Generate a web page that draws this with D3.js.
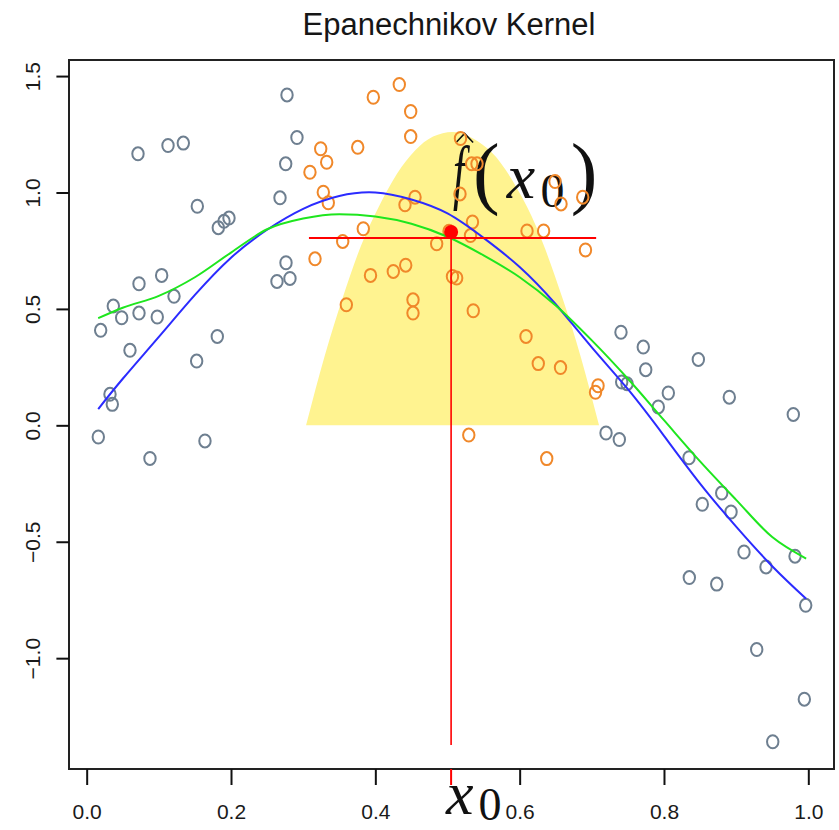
<!DOCTYPE html>
<html>
<head>
<meta charset="utf-8">
<script src="https://cdn.jsdelivr.net/npm/d3@7"></script>
<style>
  html, body { margin: 0; padding: 0; background: #fff; }
  svg { display: block; }
</style>
</head>
<body>
<svg id="chart" width="839" height="830"></svg>
<script>
// Observations outside the kernel window (drawn grey)
const outsidePoints = [
  [0.0711, 1.166], [0.1127, 1.202], [0.1339, 1.212], [0.2679, 0.977], [0.2758, 1.123],
  [0.1533, 0.941], [0.1824, 0.849], [0.1903, 0.876], [0.1972, 0.890], [0.0725, 0.608],
  [0.1039, 0.644], [0.0369, 0.512], [0.0485, 0.462], [0.0725, 0.482], [0.0978, 0.465],
  [0.1210, 0.554], [0.0194, 0.408], [0.0600, 0.322], [0.1810, 0.382], [0.1524, 0.276],
  [0.0323, 0.133], [0.0355, 0.090], [0.0161, -0.050], [0.1639, -0.067], [0.0877, -0.142],
  [0.2762, 0.698], [0.2637, 0.618], [0.2817, 0.631], [0.2776, 1.419], [0.2914, 1.236],
  [0.7404, 0.400], [0.7713, 0.336], [0.7747, 0.239], [0.8476, 0.283], [0.7414, 0.186],
  [0.7488, 0.179], [0.8060, 0.139], [0.7921, 0.079], [0.8905, 0.121], [0.9792, 0.047],
  [0.7197, -0.033], [0.7381, -0.061], [0.8347, -0.139], [0.8800, -0.291], [0.8531, -0.339],
  [0.8929, -0.372], [0.9109, -0.544], [0.9414, -0.608], [0.9816, -0.562], [0.9964, -0.773],
  [0.8351, -0.654], [0.8731, -0.682], [0.9285, -0.963], [0.9945, -1.176], [0.9507, -1.359]
];

// Observations inside the kernel window (drawn orange)
const insidePoints = [
  [0.4332, 1.464], [0.3972, 1.409], [0.4490, 1.348], [0.4490, 1.240], [0.3243, 1.188],
  [0.3756, 1.194], [0.3326, 1.130], [0.3094, 1.087], [0.3279, 1.001], [0.3348, 0.956],
  [0.4550, 0.980], [0.4411, 0.947], [0.3833, 0.844], [0.3548, 0.790], [0.4850, 0.780],
  [0.3164, 0.715], [0.3598, 0.518], [0.3933, 0.644], [0.4249, 0.661], [0.4421, 0.688],
  [0.4522, 0.539], [0.4522, 0.482], [0.5180, 1.232], [0.5335, 1.123], [0.5409, 1.123],
  [0.5173, 0.994], [0.6490, 1.047], [0.6573, 0.951], [0.6874, 0.980], [0.5346, 0.873],
  [0.5319, 0.815], [0.5021, 0.833], [0.6102, 0.835], [0.6332, 0.835], [0.6912, 0.753],
  [0.5069, 0.639], [0.5127, 0.633], [0.5357, 0.492], [0.6088, 0.382], [0.6258, 0.265],
  [0.6566, 0.248], [0.7086, 0.170], [0.7051, 0.142], [0.5295, -0.042], [0.6375, -0.143]
];

// Curve sample positions and values
const curveX    = [0.016, 0.05, 0.1, 0.15, 0.2, 0.25, 0.3, 0.35, 0.4, 0.45, 0.5,
                   0.55, 0.6, 0.65, 0.7, 0.75, 0.8, 0.85, 0.9, 0.95, 0.997];
const trueY     = [0.07, 0.2, 0.38, 0.56, 0.72, 0.84, 0.93, 0.985, 1.0, 0.97, 0.91,
                   0.805, 0.68, 0.52, 0.335, 0.155, -0.045, -0.25, -0.435, -0.605, -0.745];
const smoothY   = [0.46, 0.505, 0.556, 0.636, 0.742, 0.842, 0.888, 0.907, 0.897, 0.866, 0.81,
                   0.73, 0.636, 0.515, 0.365, 0.2, 0.022, -0.155, -0.32, -0.48, -0.572];

// Epanechnikov kernel weights over the window
const kernelX = [0.304, 0.33, 0.355, 0.38, 0.405, 0.43, 0.455, 0.48, 0.507,
                 0.53, 0.555, 0.58, 0.61, 0.635, 0.66, 0.685, 0.71];
const kernelH = [0, 0.30, 0.55, 0.77, 0.94, 1.08, 1.18, 1.24, 1.26,
                 1.24, 1.19, 1.10, 0.94, 0.76, 0.54, 0.29, 0];

// Target point and its estimate
const x0 = 0.505;
const fHat = 0.83;
const windowLevel = 0.804;
const windowRange = [0.308, 0.706];
const stemBottom = -1.373;

const xTicks = [0.0, 0.2, 0.4, 0.6, 0.8, 1.0];
const yTicks = [-1.0, -0.5, 0.0, 0.5, 1.0, 1.5];
const titleText = "Epanechnikov Kernel";

const plotLeft = 69, plotRight = 834, plotTop = 60, plotBottom = 769;

const svg = d3.select("#chart");

const x = d3.scaleLinear().domain([-0.0245, 1.0356]).range([plotLeft, plotRight]);
const y = d3.scaleLinear().domain([-1.476, 1.569]).range([plotBottom, plotTop]);

// Kernel weight area
svg.append("path")
  .datum(kernelX.map((v, i) => [v, kernelH[i]]))
  .attr("fill", "#fff390")
  .attr("d", d3.area()
    .x(d => x(d[0]))
    .y0(y(0))
    .y1(d => y(d[1]))
    .curve(d3.curveNatural));

// Estimate label  \hat f(x_0)
const xp = x(x0);
const serif = "'Liberation Serif', 'Times New Roman', serif";
const lab = svg.append("g").attr("fill", "#111");
lab.append("text")
  .attr("transform", `translate(${xp + 2},196) scale(0.6,1)`)
  .attr("font-family", serif)
  .attr("font-style", "italic").attr("font-size", 72).text("f");
lab.append("path")
  .attr("d", `M${xp + 5},142.5 L${xp + 13.5},133.5 L${xp + 22},142.5`)
  .attr("fill", "none").attr("stroke", "#111").attr("stroke-width", 1.6);
lab.append("text")
  .attr("x", xp + 22).attr("y", 199)
  .attr("font-family", serif)
  .attr("font-size", 80).text("(");
lab.append("text")
  .attr("x", xp + 55.6).attr("y", 198)
  .attr("font-family", serif)
  .attr("font-style", "italic").attr("font-size", 64).text("x");
lab.append("text")
  .attr("x", xp + 89.4).attr("y", 207)
  .attr("font-family", serif)
  .attr("font-size", 48).text("0");
lab.append("text")
  .attr("x", xp + 119.6).attr("y", 199)
  .attr("font-family", serif)
  .attr("font-size", 80).text(")");

// Data points
const drawPoints = (pts, color) => svg.append("g")
  .selectAll("ellipse").data(pts).join("ellipse")
  .attr("cx", d => x(d[0])).attr("cy", d => y(d[1]))
  .attr("rx", 5.7).attr("ry", 6.5)
  .attr("fill", "none").attr("stroke", color).attr("stroke-width", 2);
drawPoints(outsidePoints, "#6e7f90");
drawPoints(insidePoints, "#f0882a");

// True function and kernel fit
const line = d3.line().x(d => x(d[0])).y(d => y(d[1]));
svg.append("path")
  .datum(curveX.map((v, i) => [v, trueY[i]]))
  .attr("fill", "none").attr("stroke", "#2b2bff").attr("stroke-width", 2)
  .attr("d", line.curve(d3.curveNatural));
svg.append("path")
  .datum(curveX.map((v, i) => [v, smoothY[i]]))
  .attr("fill", "none").attr("stroke", "#1ee61e").attr("stroke-width", 2)
  .attr("d", line.curve(d3.curveMonotoneX));

// Window level and target stem
svg.append("line")
  .attr("x1", x(windowRange[0])).attr("x2", x(windowRange[1]))
  .attr("y1", y(windowLevel)).attr("y2", y(windowLevel))
  .attr("stroke", "#ff0000").attr("stroke-width", 2);
svg.append("line")
  .attr("x1", xp).attr("x2", xp)
  .attr("y1", y(fHat)).attr("y2", y(stemBottom))
  .attr("stroke", "#ff0000").attr("stroke-width", 1.6);
svg.append("circle")
  .attr("cx", xp).attr("cy", y(fHat)).attr("r", 7)
  .attr("fill", "#ff0000");

// Frame
svg.append("rect")
  .attr("x", plotLeft).attr("y", plotTop)
  .attr("width", plotRight - plotLeft).attr("height", plotBottom - plotTop)
  .attr("fill", "none").attr("stroke", "#222").attr("stroke-width", 2);

// X axis
const xAxis = svg.append("g")
  .attr("transform", `translate(0,${plotBottom})`)
  .call(d3.axisBottom(x).tickValues(xTicks).tickSize(16).tickPadding(19)
    .tickFormat(d3.format(".1f")));
xAxis.select(".domain").remove();
xAxis.selectAll("line").attr("stroke", "#111").attr("stroke-width", 2);
xAxis.selectAll("text")
  .attr("font-family", "'Liberation Sans', Arial, sans-serif")
  .attr("font-size", 21).attr("fill", "#1a1a1a");

// x0 tick and label
svg.append("line")
  .attr("x1", xp).attr("x2", xp).attr("y1", plotBottom).attr("y2", plotBottom + 16)
  .attr("stroke", "#ff0000").attr("stroke-width", 2);
svg.append("text")
  .attr("x", xp - 5).attr("y", 814)
  .attr("font-family", serif)
  .attr("font-style", "italic").attr("font-size", 62).attr("fill", "#111").text("x");
svg.append("text")
  .attr("x", xp + 27.5).attr("y", 820)
  .attr("font-family", serif)
  .attr("font-size", 46).attr("fill", "#111").text("0");

// Y axis
const yAxis = svg.append("g")
  .attr("transform", `translate(${plotLeft},0)`)
  .call(d3.axisLeft(y).tickValues(yTicks).tickSize(12.6)
    .tickFormat(d3.format(".1f")));
yAxis.select(".domain").remove();
yAxis.selectAll("line").attr("stroke", "#111").attr("stroke-width", 2);
yAxis.selectAll("text")
  .attr("x", null).attr("dy", null).attr("y", 0)
  .attr("text-anchor", "middle")
  .attr("transform", "translate(-29,0) rotate(-90)")
  .attr("font-family", "'Liberation Sans', Arial, sans-serif")
  .attr("font-size", 21).attr("fill", "#1a1a1a");

// Title
svg.append("text")
  .attr("x", 449).attr("y", 35)
  .attr("text-anchor", "middle")
  .attr("font-family", "'Liberation Sans', Arial, sans-serif")
  .attr("font-size", 31).attr("fill", "#161616")
  .text(titleText);
</script>
</body>
</html>
